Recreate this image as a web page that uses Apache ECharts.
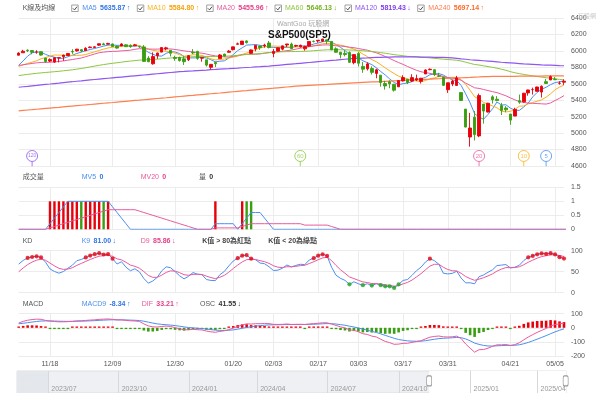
<!DOCTYPE html>
<html><head><meta charset="utf-8">
<script src="https://cdn.jsdelivr.net/npm/echarts@6/dist/echarts.min.js"></script>
<style>html,body{margin:0;padding:0;background:#fff}#c{width:600px;height:393px}</style>
</head><body><div id="c"></div>
<script>
// ---------------- DATA ----------------
const dates = [
'2024-10-01','2024-10-02','2024-10-03','2024-10-04','2024-10-07','2024-10-08','2024-10-09','2024-10-10','2024-10-11','2024-10-14','2024-10-15','2024-10-16','2024-10-17','2024-10-18','2024-10-21','2024-10-22','2024-10-23','2024-10-24','2024-10-25','2024-10-28','2024-10-29','2024-10-30','2024-10-31',
'2024-11-01','2024-11-04','2024-11-05','2024-11-06','2024-11-07','2024-11-08','2024-11-11','2024-11-12','2024-11-13','2024-11-14','2024-11-15','2024-11-18','2024-11-19','2024-11-20','2024-11-21','2024-11-22','2024-11-25','2024-11-26','2024-11-27','2024-11-29',
'2024-12-02','2024-12-03','2024-12-04','2024-12-05','2024-12-06','2024-12-09','2024-12-10','2024-12-11','2024-12-12','2024-12-13','2024-12-16','2024-12-17','2024-12-18','2024-12-19','2024-12-20','2024-12-23','2024-12-24','2024-12-26','2024-12-27','2024-12-30','2024-12-31',
'2025-01-02','2025-01-03','2025-01-06','2025-01-07','2025-01-08','2025-01-10','2025-01-13','2025-01-14','2025-01-15','2025-01-16','2025-01-17','2025-01-21','2025-01-22','2025-01-23','2025-01-24','2025-01-27','2025-01-28','2025-01-29','2025-01-30','2025-01-31',
'2025-02-03','2025-02-04','2025-02-05','2025-02-06','2025-02-07','2025-02-10','2025-02-11','2025-02-12','2025-02-13','2025-02-14','2025-02-18','2025-02-19','2025-02-20','2025-02-21','2025-02-24','2025-02-25','2025-02-26','2025-02-27','2025-02-28',
'2025-03-03','2025-03-04','2025-03-05','2025-03-06','2025-03-07','2025-03-10','2025-03-11','2025-03-12','2025-03-13','2025-03-14','2025-03-17','2025-03-18','2025-03-19','2025-03-20','2025-03-21','2025-03-24','2025-03-25','2025-03-26','2025-03-27','2025-03-28','2025-03-31',
'2025-04-01','2025-04-02','2025-04-03','2025-04-04','2025-04-07','2025-04-08','2025-04-09','2025-04-10','2025-04-11','2025-04-14','2025-04-15','2025-04-16','2025-04-17','2025-04-21','2025-04-22','2025-04-23','2025-04-24','2025-04-25','2025-04-28','2025-04-29','2025-04-30',
'2025-05-01','2025-05-02','2025-05-05','2025-05-06','2025-05-07'];

const open = [
5757,5698,5698,5737,5737,5719,5752,5778,5775,5829,5866,5816,5875,5859,5857,5833,5834,5816,5826,5833,5819,5835,5775,
5724,5725,5722,5856,5947,5977,6009,6004,5985,5990,5913,5876,5864,5915,5929,5944,5992,6000,6015,6003,
6040,6042,6069,6085,6081,6084,6057,6060,6074,6068,6063,6052,6048,5913,5843,5941,5985,6025,6007,5920,5920,
5903,5892,5982,5994,5911,5891,5800,5859,5906,5961,5983,6015,6081,6077,6121,5970,6026,6058,6062,6096,
5969,5998,6021,6072,6083,6060,6049,6025,6058,6116,6121,6118,6134,6115,6026,5983,5970,5981,5857,
5968,5811,5782,5785,5726,5705,5604,5624,5594,5563,5635,5655,5633,5646,5630,5719,5771,5771,5695,5679,5528,
5598,5580,5493,5292,4953,5193,4966,5353,5256,5441,5412,5335,5305,5232,5207,5395,5381,5489,5529,5508,5499,
5626,5646,5655,5605,5619];
const high = [
5757,5723,5718,5753,5739,5757,5796,5795,5823,5871,5871,5847,5878,5872,5866,5863,5835,5817,5862,5843,5848,5850,5775,
5772,5741,5783,5937,5983,6013,6018,6010,6008,5993,5915,5909,5923,5920,5954,5972,6020,6025,6020,6044,
6053,6052,6089,6099,6099,6088,6066,6093,6079,6079,6085,6057,6071,5936,5982,5978,6041,6050,6007,5941,5930,
5935,5950,6022,6001,5925,5891,5838,5871,5961,5965,6011,6051,6101,6119,6128,6018,6069,6063,6087,6121,
6022,6042,6062,6084,6101,6074,6076,6064,6116,6127,6129,6147,6134,6117,6044,5989,6009,5993,5960,
5987,5866,5861,5812,5783,5706,5636,5642,5598,5645,5704,5659,5716,5711,5670,5775,5786,5777,5733,5685,5613,
5650,5696,5500,5292,5246,5268,5481,5353,5369,5460,5450,5368,5328,5232,5309,5469,5489,5528,5553,5565,5581,
5659,5700,5683,5630,5654];
const low = [
5681,5680,5675,5704,5686,5713,5745,5765,5773,5820,5809,5808,5840,5846,5824,5820,5762,5784,5799,5823,5815,5812,5703,
5723,5696,5722,5856,5947,5976,5986,5959,5965,5942,5854,5865,5854,5860,5879,5943,5963,5992,5985,6003,
6033,6035,6062,6071,6079,6048,6025,6057,6051,6038,6059,6036,5867,5866,5832,5903,5983,6007,5933,5879,5870,
5829,5876,5960,5891,5869,5809,5774,5803,5906,5930,5978,6006,6075,6074,6089,5962,5995,6012,6039,6030,
5923,5991,6007,6047,6020,6046,6042,6003,6051,6103,6100,6111,6084,6009,5977,5909,5933,5858,5837,
5810,5733,5762,5712,5667,5565,5529,5546,5505,5563,5628,5597,5622,5632,5603,5719,5765,5694,5681,5573,5489,
5571,5578,5390,5069,4835,4910,4950,5115,5251,5359,5386,5220,5255,5101,5207,5356,5371,5455,5468,5505,5433,
5597,5646,5644,5589,5587];
const close = [
5709,5710,5700,5751,5696,5751,5792,5780,5815,5859,5815,5842,5841,5865,5853,5851,5797,5809,5808,5823,5832,5813,5705,
5729,5712,5783,5929,5973,5996,6001,5984,5985,5949,5871,5894,5916.98,5917.11,5949,5969,5987,6021,5999,6032,
6047,6050,6087,6075,6090,6053,6034,6084,6051,6051,6074,6051,5872,5867,5931,5974,6041,6037,5971,5907,5882,
5869,5942,5975,5909,5918,5827,5836,5843,5950,5937,5997,6049,6086,6119,6101,6012,6068,6039,6071,6041,
5994,6037,6061,6084,6026,6066,6068,6052,6115,6115,6129,6144,6118,6013,5983,5955,5956,5861,5955,
5850,5778,5842,5739,5770,5615,5573,5599,5522,5639,5675,5615,5675,5663,5668,5768,5777,5712,5693,5581,5612,
5633,5671,5397,5074,5062,4982,5457,5268,5363,5406,5397,5276,5283,5158,5288,5376,5485,5525,5529,5561,5569,
5604,5687,5650,5607,5631];
// closes before 2024-10-01 (2024-08-01 .. 2024-09-30), used for MA60 / MACD history
const earlyCloses = [5446,5347,5186,5240,5199,5319,5344,5344,5434,5455,5543,5554,5608,5597,5621,5571,5635,5616,5625,5592,5592,5648,
5528,5520,5503,5408,5471,5496,5554,5596,5626,5633,5634,5618,5714,5703,5718,5732,5722,5745,5738,5762];
const firstShownDate = '2024-11-07';
// volume (as shown by the site) for the displayed days
const volume = [0,0,0,0,0,0,0, 1,1,1,1,1,1,1,1,1,1,1,1,1,1,
0,0,0,0,0,0,0,0,0,0,0,0,0,0,0,0,0,0,0,0,0,0,0, 1, 0,0,0,0,0, 1,1,1,
0,0,0,0,0,0,0,0,0,0,0,0,0,0,0,0,0,0,0,0,0,0,0,0,0,0,0,0,0,0,0,0,0,0,0,0,0,0,0,0,0,0,0,0,0,
0,0,0,0,0,0,0,0,0,0,0,0,0,0,0,0,0,0,0,0,0,0,0,0,0,0,0,0,0,0,0,0,0,0,0,0,0,0,0,0,0];
// long moving averages (displayed days)
const ma120 = [5558,5564,5569,5575,5580,5586,5592,5597,5603,5608,5614,5620,5625,5631,5636,5642,
5647,5652,5657,5662,5667,5672,5677,5682,5687,5692,5697,5702,5707,5712,5717,5722,5727,5732,5737,5742,5747,
5750,5754,5757,5761,5764,5767,5771,5774,5778,5781,5784,5788,5791,5795,5798,5801,5805,5808,5812,5815,
5820,5825,5830,5835,5840,5844,5849,5854,5859,5864,5869,5874,5879,5884,5888,5893,5898,5903,5908,
5910,5913,5915,5918,5920,5922,5924,5925,5926,5927,5927,5927,5926,5926,5925,5924,5923,5922,5921,5920,5918,
5914,5909,5903,5898,5892,5888,5884,5880,5876,5872,5867,5862,5858,5854,5850,5846,5842,5839,5836,5833,5830,
5828,5826,5824,5821,5819];
const ma240 = [5271,5276,5281,5285,5290,5295,5300,5305,5310,5314,5319,5324,5329,5334,5339,5343,5348,5353,5358,5363,5368,
5372,5377,5382,5387,5392,5397,5401,5406,5411,5416,5421,5426,5430,5435,5440,5445,5450,5455,5459,5464,
5469,5474,5479,5484,5488,5493,5498,5503,5508,5513,5517,5522,5527,5532,5537,5542,5546,5551,5556,5561,
5566,5571,5575,5578,5581,5584,5587,5590,5592,5595,5598,5601,5604,5607,5610,5613,5616,5619,5622,5624,5627,5630,5633,5636,5639,
5641,5644,5646,5649,5651,5654,5656,5659,5661,5664,5666,5668,5671,5673,5676,5678,5681,5683,5686,5688,
5689,5689,5690,5690,5691,5691,5692,5692,5693,5693,5694,5694,5695,5695,5696,5696,5697];
const xTickLabels = {'2024-11-18':'11/18','2024-12-09':'12/09','2024-12-30':'12/30','2025-01-21':'01/20','2025-02-03':'02/03',
 '2025-02-18':'02/17','2025-03-03':'03/03','2025-03-17':'03/17','2025-03-31':'03/31','2025-04-21':'04/21','2025-05-05':'05/05'};
const maHeader = [['MA5','5635.87','↑'],['MA10','5584.80','↑'],['MA20','5455.96','↑'],['MA60','5646.13','↓'],['MA120','5819.43','↓'],['MA240','5697.14','↑']];
const volHeader = [['MV5','0',''],['MV20','0',''],['量','0','']];
const kdHeader = [['K9','81.00','↓'],['D9','85.86','↓']];
const macdHeader = [['MACD9','-8.34','↑'],['DIF','33.21','↑'],['OSC','41.55','↓']];
const pinPeriods = [120, 60, 20, 10, 5];
// overview slider (trading-day index, 0 = 2023/07 first day)
const sliderTicks = [0, 63, 126, 187, 250, 314, 378, 438];
const sliderLabels = ['2023/07','2023/10','2024/01','2024/04','2024/07','2024/10','2025/01','2025/04'];
const sliderRange = [-28, 463.5];
const sliderWindowStart = 341;

// ---------------- DERIVED ----------------
const S = dates.indexOf(firstShownDate);
const N = dates.length - S;
const shownDates = dates.slice(S);
const allClose = earlyCloses.concat(close);
const E = earlyCloses.length;
function smaAt(n, gi){ let s=0; for(let k=gi-n+1;k<=gi;k++) s+=allClose[k]; return s/n; }
function maSeries(n){ const r=[]; for(let k=0;k<N;k++) r.push(+smaAt(n, E+S+k).toFixed(2)); return r; }
const ma5 = maSeries(5), ma10 = maSeries(10), ma20 = maSeries(20), ma60 = maSeries(60);
const candle = []; for(let k=0;k<N;k++){ const i=S+k; candle.push([open[i], close[i], low[i], high[i]]); }
// KD (9,3,3)
let K=50, D=50; const kAll=[], dAll=[];
for(let i=0;i<dates.length;i++){
  if(i>=8){ let hh=-Infinity, ll=Infinity; for(let j=i-8;j<=i;j++){hh=Math.max(hh,high[j]); ll=Math.min(ll,low[j]);}
    const rsv = hh===ll?50:(close[i]-ll)/(hh-ll)*100; K = K*2/3 + rsv/3; D = D*2/3 + K/3; }
  kAll.push(K); dAll.push(D);
}
const kLine = kAll.slice(S).map(v=>+v.toFixed(2)), dLine = dAll.slice(S).map(v=>+v.toFixed(2));
// MACD (12,26,9)
let e12=allClose[0], e26=allClose[0], sig=0; const difAll=[], sigAll=[];
for(let j=0;j<allClose.length;j++){ const c=allClose[j]; e12=e12*11/13+c*2/13; e26=e26*25/27+c*2/27; const dif=e12-e26; sig = j===0?dif:sig*0.8+dif*0.2; difAll.push(dif); sigAll.push(sig); }
const difLine = difAll.slice(E+S).map(v=>+v.toFixed(2)), sigLine = sigAll.slice(E+S).map(v=>+v.toFixed(2));
const osc = difLine.map((v,k)=>+(v-sigLine[k]).toFixed(2));
// volume averages
function mv(n){ return volume.map((v,k)=>{let s=0; for(let j=k-n+1;j<=k;j++) s+= j>=0?volume[j]:0; return s/n;}); }
const mv5 = mv(5), mv20 = mv(20);

// ---------------- STYLE ----------------
const UP='#e8000b', DOWN='#3a9e12';
const C = {ma5:'#4b8ff0', ma10:'#f9b11b', ma20:'#ea5a9c', ma60:'#8cc63e', ma120:'#8f56f2', ma240:'#ff7f4f'};
const FONT = "'Liberation Sans','Noto Sans CJK TC',sans-serif";
const GL = 18.7, GW = 545.3;
const grids = [
  {left:GL, width:GW, top:18, height:148},
  {left:GL, width:GW, top:187.3, height:42},
  {left:GL, width:GW, top:250.7, height:42},
  {left:GL, width:GW, top:313.7, height:42.3},
  {left:17, width:549, top:371, height:26, show:true, backgroundColor:'#eef0f3', borderColor:'#dcdfe3', borderWidth:1}
];
const isTick = (idx, val) => !!xTickLabels[val];
function catAxis(gi){
  return {type:'category', gridIndex:gi, data:shownDates, boundaryGap:false,
    axisLine:{show:false}, axisTick:{show:false},
    splitLine:{show:true, interval:isTick, lineStyle:{color:'#ececec', width:1}},
    axisLabel:{show:gi===3, interval:isTick, formatter:v=>xTickLabels[v]||'', fontSize:7, color:'#555', margin:5, fontFamily:FONT}};
}
function valAxis(gi, min, max, interval){
  return {type:'value', gridIndex:gi, position:'right', min, max, interval,
    axisLine:{show:false}, axisTick:{show:false},
    splitLine:{show:true, lineStyle:{color:'#ececec', width:1}},
    axisLabel:{fontSize:7, color:'#555', margin:7, fontFamily:FONT, formatter:v=>String(v)}};
}
const xAxes = [0,1,2,3].map(catAxis);
xAxes.push({type:'value', gridIndex:4, min:sliderRange[0], max:sliderRange[1], position:'bottom', z:20,
  axisLine:{show:false}, axisTick:{show:false}, splitLine:{show:false},
  axisLabel:{inside:true, customValues:sliderTicks, formatter:v=>sliderLabels[sliderTicks.indexOf(v)]||'', align:'left', padding:[0,0,0,3], margin:0, fontSize:7, color:'#999', fontFamily:FONT}});
const yAxes = [valAxis(0,4600,6400,200), valAxis(1,0,1.5,0.5), valAxis(2,0,100,50), valAxis(3,-200,100,100),
  {type:'value', gridIndex:4, min:0, max:1, show:false}];

function line(name, data, color, xi, w){ return {name, type:'line', xAxisIndex:xi, yAxisIndex:xi, data, symbol:'none', lineStyle:{color, width:w||1}, itemStyle:{color}, z:3, silent:true, animation:false}; }

const pinY = 4722, stemY = 4628;
const pinColors = [C.ma120, C.ma60, C.ma20, C.ma10, C.ma5];
const pinData = pinPeriods.map((p,i)=>({value:[N-p, pinY], itemStyle:{color:'#fff', borderColor:pinColors[i], borderWidth:1},
  label:{show:true, position:'inside', formatter:String(p), color:pinColors[i], fontSize:p>=100?5:6, fontFamily:FONT}}));
const stemData = pinPeriods.map((p,i)=>({value:[N-p, stemY], itemStyle:{color:pinColors[i]}}));

const volColor = volume.map((v,k)=> close[S+k] >= close[S+k-1] ? UP : DOWN);
const kRed = [], kGreen = [];
kLine.forEach((v,k)=>{ if(v>80) kRed.push([k,v]); else if(v<20) kGreen.push([k,v]); });

const series = [
  {type:'candlestick', xAxisIndex:0, yAxisIndex:0, data:candle, barWidth:3, clip:false, z:4,
   itemStyle:{color:UP, color0:DOWN, borderColor:UP, borderColor0:DOWN, borderWidth:0.9}, animation:false},
  line('MA5', ma5, C.ma5, 0), line('MA10', ma10, C.ma10, 0), line('MA20', ma20, C.ma20, 0),
  line('MA60', ma60, C.ma60, 0), line('MA120', ma120, C.ma120, 0, 1.2), line('MA240', ma240, C.ma240, 0, 1.2),
  {type:'scatter', xAxisIndex:0, yAxisIndex:0, data:stemData, symbol:'rect', symbolSize:[1,5], z:5, animation:false},
  {type:'scatter', xAxisIndex:0, yAxisIndex:0, data:pinData, symbol:'circle', symbolSize:11, z:6, animation:false},
  {type:'bar', xAxisIndex:1, yAxisIndex:1, data:volume.map((v,k)=>({value:v, itemStyle:{color:volColor[k]}})), barWidth:2.4, animation:false},
  line('MV5', mv5, C.ma5, 1), line('MV20', mv20, C.ma20, 1),
  line('K', kLine, C.ma5, 2), line('D', dLine, C.ma20, 2),
  {type:'scatter', xAxisIndex:2, yAxisIndex:2, data:kRed, symbolSize:4.2, itemStyle:{color:'#e8000b'}, z:6, animation:false},
  {type:'scatter', xAxisIndex:2, yAxisIndex:2, data:kGreen, symbolSize:4.2, itemStyle:{color:'#1fa31f'}, z:6, animation:false},
  {type:'bar', xAxisIndex:3, yAxisIndex:3, data:osc.map(v=>({value:v, itemStyle:{color:v>=0?UP:DOWN}})), barWidth:2.6, barMinHeight:1.3, animation:false},
  line('MACD9', sigLine, C.ma5, 3), line('DIF', difLine, C.ma20, 3),
  {type:'line', xAxisIndex:4, yAxisIndex:4, data:[], animation:false, z:1,
   markArea:{silent:true, data:[[{xAxis:sliderRange[0], itemStyle:{color:'#e4e7eb'}},{xAxis:0}],[{xAxis:sliderWindowStart, itemStyle:{color:'#ffffff'}},{xAxis:sliderRange[1]}]]},
   markLine:{silent:true, symbol:'none', label:{show:false}, lineStyle:{color:'#d5d8dc', type:'solid', width:1}, data:sliderTicks.map(t=>({xAxis:t}))},
   markPoint:{silent:true, symbol:'roundRect', symbolSize:[5,10], itemStyle:{color:'#fff', borderColor:'#999', borderWidth:1}, label:{show:false},
     data:[{coord:[sliderWindowStart,0.55]},{coord:[sliderRange[1]-0.3,0.55]}]}}
];

// ---------------- HEADERS (graphic) ----------------
const g = [];
function T(x, y, text, color, bold, size){ g.push({type:'text', x, y, z:100, silent:true, style:{text, fill:color, font:(bold?'bold ':'')+(size||7)+'px '+FONT, verticalAlign:'middle'}}); }
function R(x, y, name, val, arrow, c1, c2){
  g.push({type:'text', x, y, z:100, silent:true, style:{text:'{a|'+name+'} {b|'+val+'}'+(arrow?'{c|'+arrow+'}':''), verticalAlign:'middle',
    rich:{a:{fill:c1, fontSize:7, fontFamily:FONT}, b:{fill:c2, fontSize:7, fontWeight:'bold', fontFamily:FONT}, c:{fill:c2, fontSize:7, fontFamily:FONT, padding:[0,0,0,1.5]}}}});
}
function box(x, y){ g.push({type:'rect', x, y, z:100, silent:true, shape:{width:6.5,height:6.5}, style:{fill:'#fff', stroke:'#8a8a8a', lineWidth:0.8}});
  g.push({type:'polyline', x, y, z:101, silent:true, shape:{points:[[1.3,3.4],[2.8,4.9],[5.3,1.7]]}, style:{stroke:'#333', lineWidth:0.9, fill:null}}); }
const maCols = [C.ma5, C.ma10, C.ma20, C.ma60, C.ma120, C.ma240];
const maValCols = ['#2f74ea','#f6a10a','#e4418b','#73b21f','#7d3cf0','#ff6a2c'];
const maBox = [71.7,137.3,206.7,275,345,417.7], maTxt = [82.3,147.3,216.7,285,355,428.3];
T(22.7, 8.3, 'K線及均線', '#555');
maHeader.forEach((h,i)=>{ box(maBox[i], 5); R(maTxt[i], 8.3, h[0], h[1], h[2], maCols[i], maValCols[i]); });
T(22.7, 177.3, '成交量', '#555');
R(81.7,177.3,volHeader[0][0],volHeader[0][1],'',C.ma5,'#2f74ea');
R(140.7,177.3,volHeader[1][0],volHeader[1][1],'',C.ma20,'#e4418b');
R(199,177.3,volHeader[2][0],volHeader[2][1],'','#555','#333');
T(22.7, 241, 'KD', '#555');
R(81.7,241,kdHeader[0][0],kdHeader[0][1],kdHeader[0][2],C.ma5,'#2f74ea');
R(140.7,241,kdHeader[1][0],kdHeader[1][1],kdHeader[1][2],C.ma20,'#e4418b');
T(202.3,241,'K值 > 80為紅點','#444',true); T(268.3,241,'K值 < 20為綠點','#444',true);
T(22.7, 304.3, 'MACD', '#555');
R(81.7,304.3,macdHeader[0][0],macdHeader[0][1],macdHeader[0][2],C.ma5,'#2f74ea');
R(141.7,304.3,macdHeader[1][0],macdHeader[1][1],macdHeader[1][2],C.ma20,'#e4418b');
R(200,304.3,macdHeader[2][0],macdHeader[2][1],macdHeader[2][2],'#555','#333');
T(277, 24, 'WantGoo 玩股網', '#aaa', false, 7);
T(268, 35.5, 'S&P500(SP5)', '#111', true, 10);
T(578, 16, '玩股網', '#c8c8c8', false, 6);

const chart = echarts.init(document.getElementById('c'), null, {renderer:'canvas'});
chart.setOption({animation:false, backgroundColor:'#fff', grid:grids, xAxis:xAxes, yAxis:yAxes, series, graphic:g});
</script></body></html>
